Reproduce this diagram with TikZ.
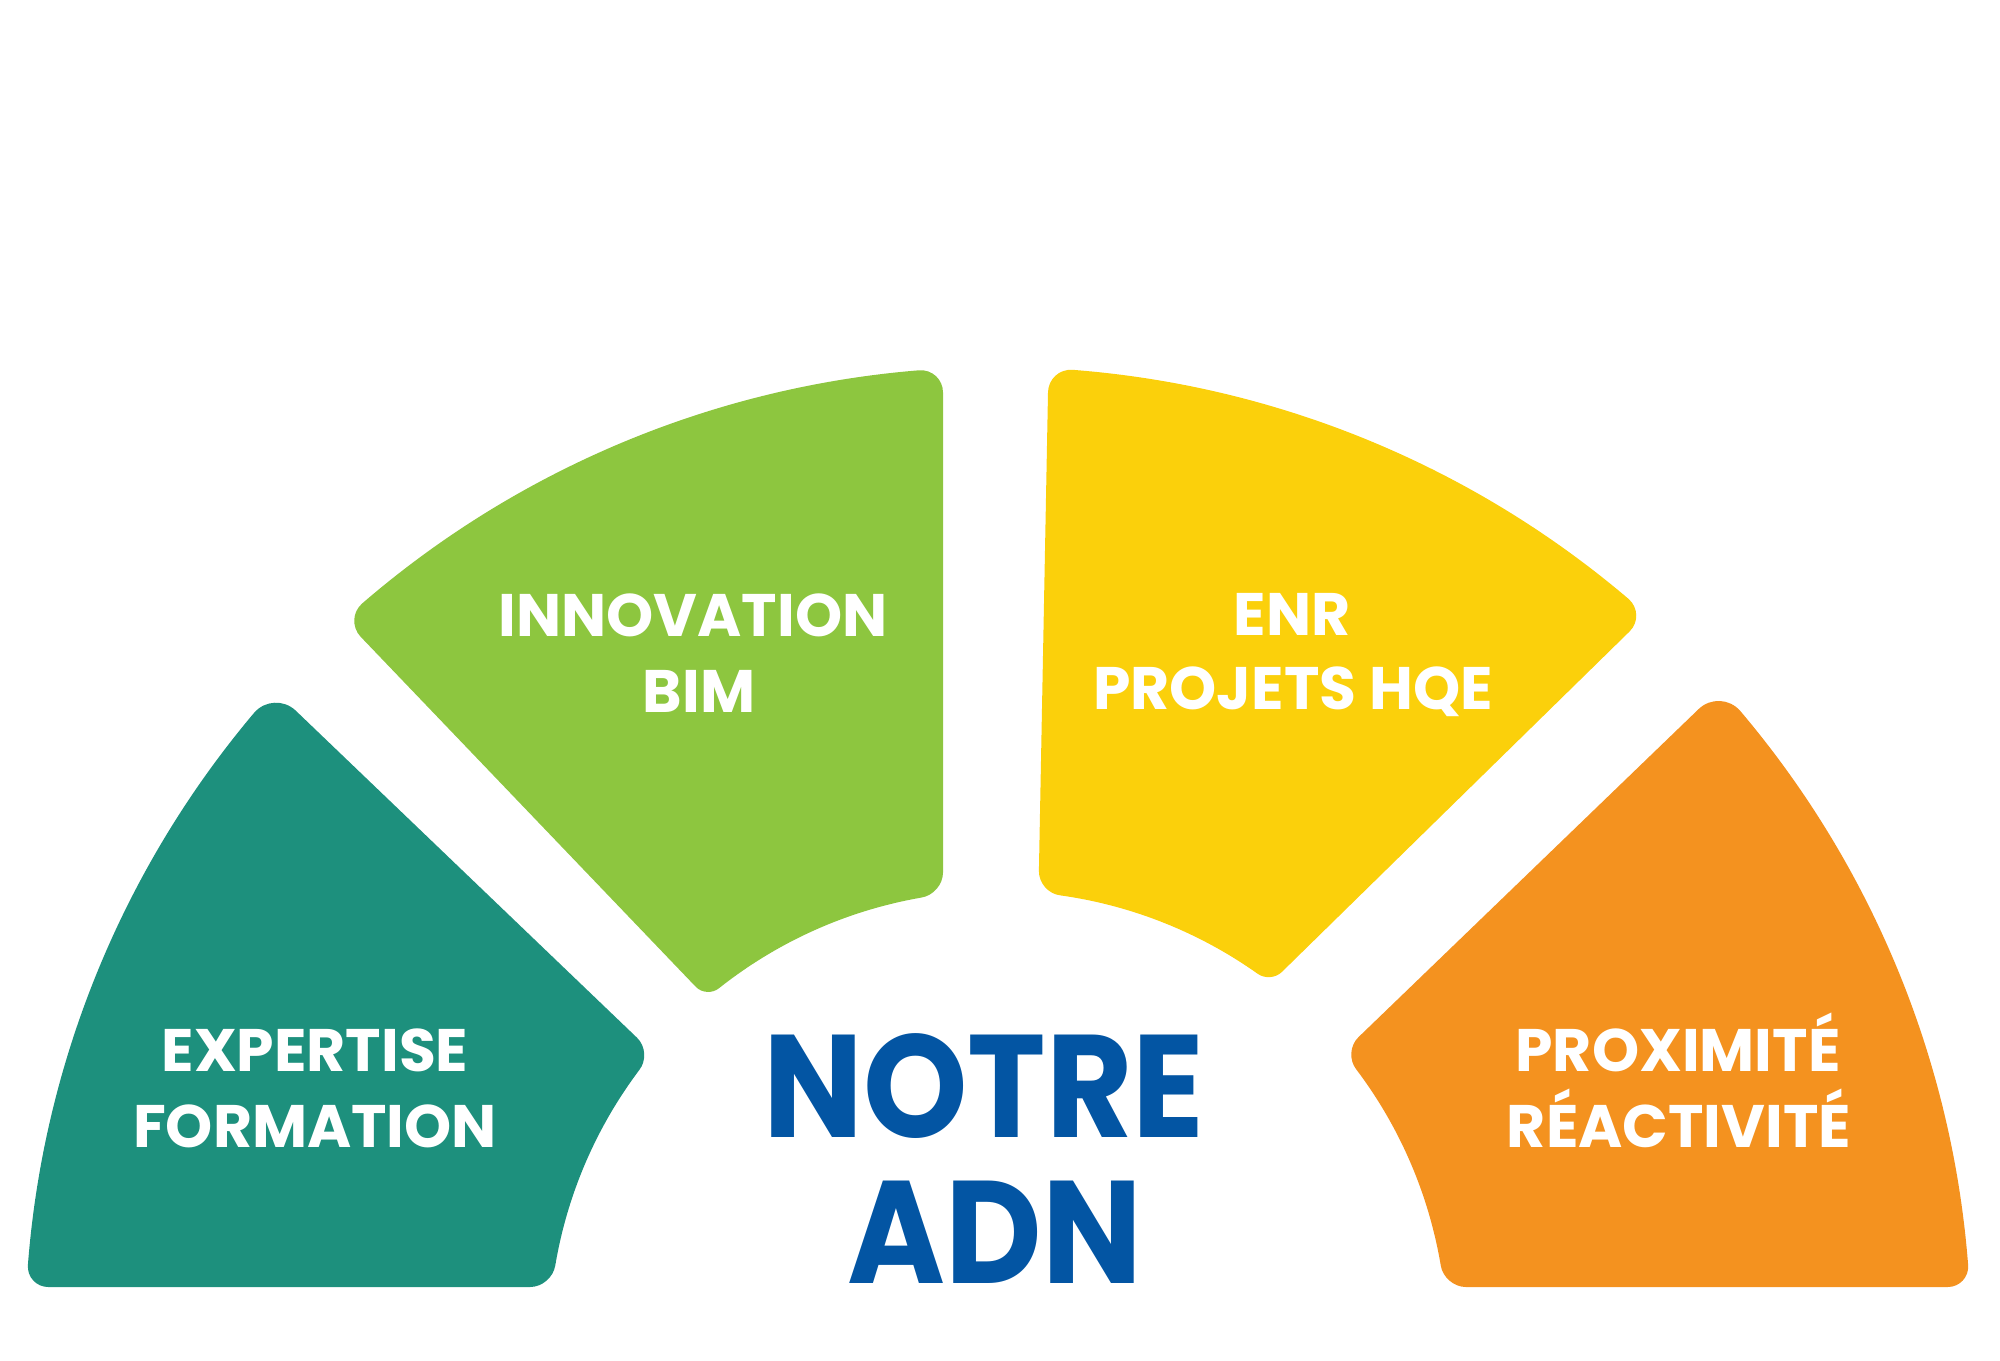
\documentclass[tikz,border=0pt]{standalone}
\usepackage{fontspec}
\usepackage{graphicx}
\setmainfont{Poppins}
\definecolor{innovgreen}{RGB}{141,198,63}
\definecolor{enryellow}{RGB}{251,208,11}
\definecolor{experteal}{RGB}{29,144,125}
\definecolor{proxorange}{RGB}{244,146,31}
\definecolor{adnblue}{RGB}{3,85,163}
\tikzset{
  tag/.style={text=white,anchor=base,inner sep=0pt,font=\fontsize{30}{30}\selectfont\bfseries},
  adntag/.style={text=adnblue,anchor=base,inner sep=0pt,font=\fontsize{73}{73}\selectfont\bfseries}
}
\begin{document}
\begin{tikzpicture}[x=0.5pt,y=-0.5pt]
\useasboundingbox (0,0) rectangle (2000,1360);
% ring centre (998,1340), outer radius 973, inner radius 449
\fill[innovgreen] (362.0,603.6) arc[start angle=229.19, end angle=265.35, radius=973]
  .. controls (932.2,369.3) and (943,379.4) .. (943,392.6) -- (943,872.4)
  .. controls (943,884.5) and (933.2,895.8) .. (921.2,897.6)
  arc[start angle=260.15, end angle=231.60, radius=449]
  .. controls (712.3,993.7) and (701.8,993.1) .. (695.7,986.7) -- (360.7,636.8)
  .. controls (351.6,627.3) and (352.2,612.3) .. (362.0,603.6) -- cycle;
%
\fill[enryellow] (1072.3,369.8) arc[start angle=274.38, end angle=310.39, radius=973]
  .. controls (1638.4,607.5) and (1638.9,622.3) .. (1629.5,631.5) -- (1281.9,971.9)
  .. controls (1275.6,978.1) and (1264.7,978.9) .. (1257.6,973.7)
  arc[start angle=305.33, end angle=277.98, radius=449]
  .. controls (1048.3,894.0) and (1038.7,882.9) .. (1038.9,870.8) -- (1048.0,392.3)
  .. controls (1048.3,379.1) and (1059.2,369.0) .. (1072.3,369.8) -- cycle;
%
\fill[experteal] (27.9,1265.0) arc[start angle=184.42, end angle=220.15, radius=973]
  .. controls (265.1,700.2) and (283.9,699.3) .. (295.8,710.7) -- (637.0,1037.7)
  .. controls (645.7,1046.1) and (646.7,1060.6) .. (639.2,1070.1)
  arc[start angle=216.95, end angle=189.59, radius=449]
  .. controls (553.5,1277.2) and (542.2,1287) .. (530.1,1287) -- (48.4,1287)
  .. controls (36.3,1287) and (27.1,1277.1) .. (27.9,1265.0) -- cycle;
%
\fill[proxorange] (1740.2,710.9) arc[start angle=319.71, end angle=355.585, radius=973]
  .. controls (1968.9,1277.1) and (1959.7,1287) .. (1947.6,1287) -- (1465.9,1287)
  .. controls (1453.8,1287) and (1442.5,1277.2) .. (1440.7,1265.2)
  arc[start angle=350.41, end angle=322.97, radius=449]
  .. controls (1348.8,1060.1) and (1349.7,1045.6) .. (1358.4,1037.2) -- (1698.7,709.0)
  .. controls (1710.6,697.6) and (1729.3,698.4) .. (1740.2,710.9) -- cycle;
%
\node[tag] (innovA) at (693,636) {INNOVATION};
\node[tag] (innovB) at (699,712) {BIM};
\node[tag] (enrA) at (1292,635) {ENR};
\node[tag] (enrB) at (1293,709) {PROJETS HQE};
%
\node[tag] (expertA) at (315,1071) {EXPERTISE};
\node[tag] (expertB) at (315,1147.5) {FORMATION};
\node[tag] (proxA) at (1678,1071) {PROXIMITÉ};
\node[tag] (proxB) at (1679,1147.5) {RÉACTIVITÉ};
%
\node[adntag] (notre) at (984,1137) {\scalebox{0.91}[1]{NOTRE}};
\node[adntag] (adn) at (995,1283) {\scalebox{0.91}[1]{ADN}};
\end{tikzpicture}
\end{document}
